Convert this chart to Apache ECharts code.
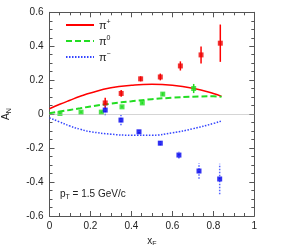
<!DOCTYPE html>
<html><head><meta charset="utf-8">
<script src="https://cdn.jsdelivr.net/npm/echarts@6/dist/echarts.min.js"></script>
<style>html,body{margin:0;padding:0;background:#fff}#c{width:302px;height:245px}</style>
</head><body><div id="c"></div>
<script>
// ---- data ----
const xTicks = [0, 0.2, 0.4, 0.6, 0.8, 1];
const yTicks = [-0.6, -0.4, -0.2, 0, 0.2, 0.4, 0.6];

const curveX     = [0, 0.05, 0.1, 0.15, 0.2, 0.3, 0.4, 0.5, 0.6, 0.7, 0.8, 0.84];
const piPlusCurve  = [0.032, 0.058, 0.082, 0.105, 0.125, 0.155, 0.170, 0.176, 0.170, 0.152, 0.122, 0.105];
const piZeroCurve  = [0.005, 0.015, 0.025, 0.035, 0.045, 0.062, 0.076, 0.088, 0.097, 0.103, 0.105, 0.102];
const piMinusCurve = [-0.022, -0.046, -0.070, -0.089, -0.103, -0.118, -0.124, -0.124, -0.110, -0.086, -0.055, -0.040];

const piPlusX   = [0.272, 0.350, 0.445, 0.541, 0.639, 0.740, 0.834];
const piPlusY   = [0.066, 0.122, 0.208, 0.219, 0.284, 0.349, 0.418];
const piPlusErr = [0.03, 0.02, 0.015, 0.02, 0.027, 0.05, 0.11];

const piZeroX   = [0.051, 0.154, 0.253, 0.354, 0.453, 0.553, 0.704];
const piZeroY   = [0.004, 0.012, 0.012, 0.043, 0.066, 0.118, 0.151];
const piZeroErr = [0.005, 0.005, 0.005, 0.006, 0.007, 0.01, 0.027];

const piMinusX   = [0.272, 0.349, 0.437, 0.541, 0.632, 0.730, 0.831];
const piMinusY   = [0.024, -0.035, -0.104, -0.171, -0.241, -0.335, -0.382];
const piMinusErr = [0.03, 0.03, 0.01, 0.012, 0.02, 0.046, 0.09];

const names = ['π+', 'π0', 'π-'];
// ---- chart ----
const FONT = 'Liberation Sans';
const zip = (a, b) => a.map((v, i) => [v, b[i]]);
const zip3 = (a, b, c) => a.map((v, i) => [v, b[i], c[i]]);

function errSeries(xs, ys, es, color, dash) {
  return {
    type: 'custom', silent: true, z: 3,
    data: zip3(xs, ys, es),
    renderItem: function (params, api) {
      const x = api.value(0), y = api.value(1), e = api.value(2);
      const p1 = api.coord([x, y - e]), p2 = api.coord([x, y + e]);
      return {type: 'line', shape: {x1: p1[0], y1: p1[1], x2: p2[0], y2: p2[1]},
        style: {stroke: color, lineWidth: 1.5, lineDash: dash || null}};
    }
  };
}
function pts(xs, ys, color) {
  return {type: 'scatter', symbol: 'rect', symbolSize: 5, z: 4, silent: true,
    itemStyle: {color: color}, data: zip(xs, ys)};
}
const axisCommon = {
  type: 'value', splitLine: {show: false},
  axisLine: {show: true, onZero: false, lineStyle: {color: '#555', width: 1}},
  axisTick: {show: true, inside: true, length: 5, lineStyle: {color: '#555'}},
  minorTick: {show: true, splitNumber: 4, length: 3, lineStyle: {color: '#555'}},
};
const chart = echarts.init(document.getElementById('c'), null, {renderer: 'canvas'});
chart.setOption({
  animation: false,
  textStyle: {fontFamily: FONT},
  grid: {left: 49.5, right: 47.7, top: 12.3, bottom: 29, containLabel: false, outerBoundsMode: 'none'},
  legend: {
    show: true, orient: 'vertical', left: 60, top: 14, itemWidth: 28, itemHeight: 8, itemGap: 4,
    data: names,
    itemStyle: {color: 'rgba(0,0,0,0)', borderWidth: 0, opacity: 0},
    formatter: function (n) { return '{b|π}{s|' + (n === 'π+' ? '+' : n === 'π0' ? '0' : '−') + '}'; },
    textStyle: {color: '#222', fontFamily: FONT, rich: {
      b: {fontSize: 11, fontFamily: FONT, color: '#222', verticalAlign: 'bottom', lineHeight: 12},
      s: {fontSize: 7, fontFamily: FONT, color: '#222', verticalAlign: 'top', lineHeight: 12}}}
  },
  xAxis: [
    Object.assign({}, axisCommon, {min: xTicks[0], max: xTicks[xTicks.length - 1], interval: 0.2, position: 'bottom',
      name: 'x{s|F}', nameLocation: 'middle', nameGap: 18,
      nameTextStyle: {fontSize: 10, color: '#222', fontFamily: FONT, rich: {s: {fontSize: 7, verticalAlign: 'bottom', padding: [6, 0, 0, 0]}}},
      axisLabel: {fontSize: 10, color: '#222', margin: 5, fontFamily: FONT}}),
    Object.assign({}, axisCommon, {min: xTicks[0], max: xTicks[xTicks.length - 1], interval: 0.2, position: 'top',
      axisLabel: {show: false}})
  ],
  yAxis: [
    Object.assign({}, axisCommon, {min: yTicks[0], max: yTicks[yTicks.length - 1], interval: 0.2, position: 'left',
      name: 'A{s|N}', nameLocation: 'middle', nameGap: 37, nameRotate: 90,
      nameTextStyle: {fontSize: 10, color: '#222', fontFamily: FONT, rich: {s: {fontSize: 7, verticalAlign: 'bottom', padding: [6, 0, 0, 0]}}},
      axisLabel: {fontSize: 10, color: '#222', margin: 6, fontFamily: FONT,
        formatter: v => (Math.abs(v) < 1e-9 ? '0' : String(Math.round(v * 10) / 10))}}),
    Object.assign({}, axisCommon, {min: yTicks[0], max: yTicks[yTicks.length - 1], interval: 0.2, position: 'right',
      axisLabel: {show: false}})
  ],
  graphic: [{
    type: 'text', left: 60, top: 189, silent: true,
    style: {text: 'p{s|T} = 1.5 GeV/c', fontSize: 10, fontFamily: FONT, fill: '#222',
      rich: {s: {fontSize: 7, fontFamily: FONT, fill: '#222', verticalAlign: 'bottom', padding: [6, 0, 0, 0]}}}
  }],
  series: [
    {name: 'zero', type: 'line', data: [], silent: true,
      markLine: {silent: true, symbol: 'none', label: {show: false},
        lineStyle: {color: '#aaa', type: 'dotted', width: 1}, data: [{yAxis: 0}]}},
    {name: names[0], type: 'line', smooth: true, symbol: 'none', z: 2, data: zip(curveX, piPlusCurve),
      color: '#ff0000', lineStyle: {color: '#ff0000', width: 1.5, type: 'solid'}},
    {name: names[1], type: 'line', smooth: true, symbol: 'none', z: 2, data: zip(curveX, piZeroCurve),
      color: '#22dd22', lineStyle: {color: '#22dd22', width: 2, type: [6, 3]}},
    {name: names[2], type: 'line', smooth: true, symbol: 'none', z: 2, data: zip(curveX, piMinusCurve),
      color: '#3344ff', lineStyle: {color: '#3344ff', width: 1.5, type: [1.5, 1.5]}},
    errSeries(piPlusX, piPlusY, piPlusErr, '#ff0000'),
    errSeries(piZeroX, piZeroY, piZeroErr, '#22dd22'),
    errSeries(piMinusX, piMinusY, piMinusErr, '#5566ff', [1.5, 1.5]),
    pts(piPlusX, piPlusY, '#ee0000'),
    pts(piZeroX, piZeroY, '#22dd22'),
    pts(piMinusX, piMinusY, '#0000ee')
  ]
});
</script></body></html>
